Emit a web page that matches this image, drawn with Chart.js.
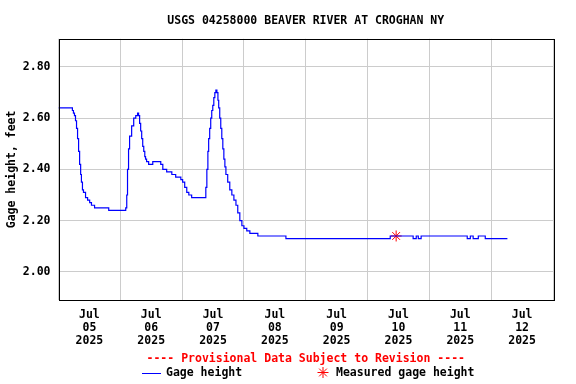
<!DOCTYPE html>
<html lang="en">
<head>
    <meta charset="UTF-8">
    <title>USGS 04258000 BEAVER RIVER AT CROGHAN NY</title>
    <script src="https://cdn.jsdelivr.net/npm/chart.js"></script>
    <style>
        html, body { margin: 0; padding: 0; background: #fff; }
        #wrap { width: 576px; height: 384px; }
    </style>
</head>
<body>
    <div id="wrap"><canvas id="gageChart"></canvas></div>

    <script>
        // hours after Jul 05 2025 00:00 and gage height (feet)
        const gageHours = [0, 5.1, 5.4, 5.8, 6.2, 6.6, 7.0, 7.4, 7.8, 8.2, 8.6, 8.9, 9.3, 9.7, 10.5, 11.3, 12.1, 12.8, 14.0, 19.5,
            26.1, 26.5, 26.8, 27.2, 27.6, 28.4, 29.2, 30.0, 30.7, 31.1, 31.5, 31.9, 32.3, 32.7, 33.1, 33.5, 33.8, 34.2, 35.0, 36.6,
            39.7, 40.5, 42.0, 44.0, 45.5, 47.5, 48.2, 49.0, 49.8, 50.6, 51.7,
            56.8, 57.2, 57.6, 58.0, 58.3, 58.7, 59.1, 59.5, 59.9, 60.3, 60.7, 61.1, 61.5, 61.9, 62.2, 62.6, 63.0, 63.4, 63.8, 64.2,
            64.6, 65.0, 65.7, 66.5, 67.3, 68.1, 68.9, 69.6, 70.4, 71.2, 72.0, 73.1, 74.3, 77.4, 88.3,
            128.8, 137.7, 138.9, 139.7, 140.8, 158.7, 159.9, 161.0, 163.0, 164.9, 165.7, 174.3];
        const gageValues = [2.64, 2.64, 2.63, 2.62, 2.61, 2.59, 2.56, 2.52, 2.47, 2.42, 2.38, 2.35, 2.32, 2.31, 2.29, 2.28, 2.27, 2.26, 2.25, 2.24,
            2.25, 2.30, 2.40, 2.48, 2.53, 2.57, 2.60, 2.61, 2.62, 2.61, 2.58, 2.55, 2.52, 2.49, 2.47, 2.45, 2.44, 2.43, 2.42, 2.43,
            2.42, 2.40, 2.39, 2.38, 2.37, 2.36, 2.35, 2.33, 2.31, 2.30, 2.29,
            2.29, 2.33, 2.40, 2.47, 2.52, 2.56, 2.60, 2.63, 2.65, 2.68, 2.70, 2.71, 2.70, 2.67, 2.64, 2.60, 2.56, 2.52, 2.48, 2.44,
            2.41, 2.38, 2.35, 2.32, 2.30, 2.28, 2.26, 2.23, 2.20, 2.18, 2.17, 2.16, 2.15, 2.14, 2.13,
            2.14, 2.13, 2.14, 2.13, 2.14, 2.13, 2.14, 2.13, 2.14, 2.14, 2.13, 2.13];

        const measuredHours = [131.1];
        const measuredValues = [2.14];

        const dayLabels = ['05', '06', '07', '08', '09', '10', '11', '12'];
        const monthLabel = 'Jul';
        const yearLabel = '2025';

        const FONT = '"DejaVu Sans Mono", "Liberation Mono", monospace';

        // frame around plot + provisional note + legend row
        const extras = {
            id: 'extras',
            afterDraw(chart) {
                const { ctx, chartArea: a } = chart;
                ctx.save();
                ctx.strokeStyle = '#000';
                ctx.lineWidth = 1;
                ctx.strokeRect(Math.round(a.left) + 0.5, Math.round(a.top) + 0.5,
                    Math.round(a.right - a.left), Math.round(a.bottom - a.top));

                const cx = (a.left + a.right) / 2;
                ctx.font = 'bold 11.5px ' + FONT;
                ctx.textBaseline = 'middle';
                ctx.textAlign = 'center';
                ctx.fillStyle = '#ff0000';
                ctx.fillText('---- Provisional Data Subject to Revision ----', cx, 359);

                ctx.textAlign = 'left';
                ctx.fillStyle = '#000';
                ctx.strokeStyle = '#0000ff';
                ctx.beginPath();
                ctx.moveTo(142, 373.5);
                ctx.lineTo(161, 373.5);
                ctx.stroke();
                ctx.fillText('Gage height', 166, 373);

                ctx.strokeStyle = '#ff0000';
                Chart.helpers.drawPoint(ctx, { pointStyle: 'star', radius: 5.5, rotation: 0, borderWidth: 1 }, 323, 372.5);
                ctx.fillText('Measured gage height', 336, 373);
                ctx.restore();
            }
        };

        new Chart(document.getElementById('gageChart'), {
            type: 'line',
            data: {
                datasets: [{
                    label: 'Gage height',
                    data: gageHours.map((h, i) => ({ x: h, y: gageValues[i] })),
                    borderColor: '#0000ff',
                    borderWidth: 1.2,
                    pointRadius: 0,
                    stepped: true,
                    fill: false
                }, {
                    label: 'Measured gage height',
                    data: measuredHours.map((h, i) => ({ x: h, y: measuredValues[i] })),
                    showLine: false,
                    pointStyle: 'star',
                    pointRadius: 5.5,
                    pointBorderColor: '#ff0000',
                    pointBorderWidth: 1,
                    pointBackgroundColor: '#ff0000'
                }]
            },
            options: {
                responsive: true,
                maintainAspectRatio: false,
                animation: false,
                layout: { padding: { left: 1, right: 23, top: 0, bottom: 37 } },
                plugins: {
                    legend: { display: false },
                    tooltip: { enabled: false },
                    title: {
                        display: true,
                        fullSize: false,
                        text: 'USGS 04258000 BEAVER RIVER AT CROGHAN NY',
                        color: '#000',
                        font: { family: FONT, size: 11.5, weight: 'bold' },
                        padding: { top: 14, bottom: 11 }
                    }
                },
                scales: {
                    x: {
                        type: 'linear',
                        min: 0,
                        max: 192,
                        afterBuildTicks(axis) {
                            const t = [];
                            for (let h = 0; h <= 192; h += 12) t.push({ value: h });
                            axis.ticks = t;
                        },
                        afterFit(axis) { axis.height = 47; },
                        border: { display: false },
                        grid: {
                            drawTicks: false,
                            color: c => (c.tick && c.tick.value % 24 === 0) ? '#cccccc' : 'rgba(0,0,0,0)'
                        },
                        ticks: {
                            autoSkip: false,
                            maxRotation: 0,
                            padding: 9,
                            color: '#000',
                            font: { family: FONT, size: 11.5, weight: 'bold', lineHeight: 1.1 },
                            callback: v => (v % 24 === 12) ? [monthLabel, dayLabels[Math.floor(v / 24)], yearLabel] : ''
                        }
                    },
                    y: {
                        min: 1.89,
                        max: 2.91,
                        afterFit(axis) { axis.width = 57.5; },
                        border: { display: false },
                        grid: { drawTicks: false, color: '#cccccc' },
                        ticks: {
                            stepSize: 0.2,
                            includeBounds: false,
                            padding: 8,
                            color: '#000',
                            font: { family: FONT, size: 11.5, weight: 'bold' },
                            callback: v => v.toFixed(2)
                        },
                        title: {
                            display: true,
                            text: 'Gage height, feet',
                            color: '#000',
                            font: { family: FONT, size: 11.5, weight: 'bold' },
                            padding: { top: 4, bottom: 4 }
                        }
                    }
                }
            },
            plugins: [extras]
        });
    </script>
</body>
</html>
